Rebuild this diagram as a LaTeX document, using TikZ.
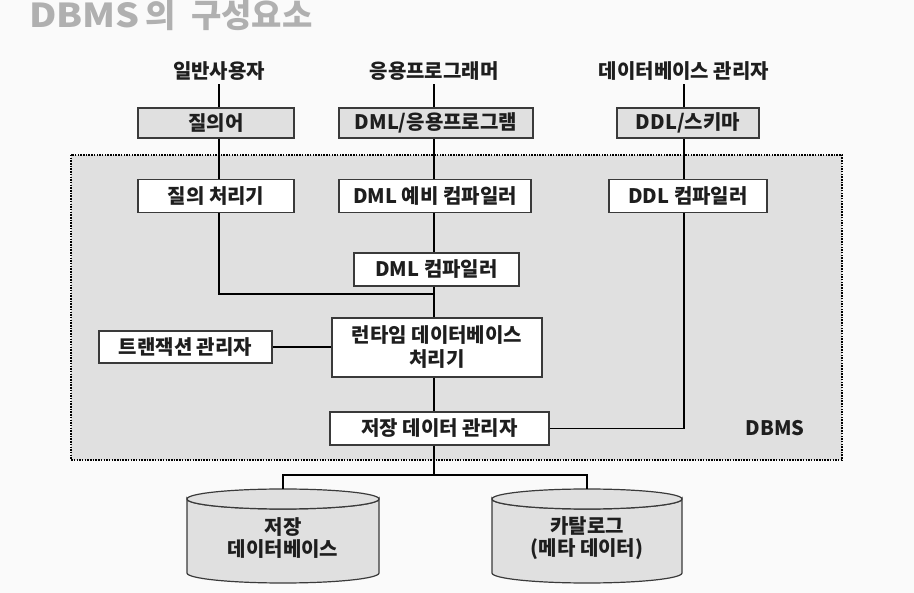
\documentclass[tikz,border=0pt]{standalone}
\usepackage{fontspec}
\setmainfont{Noto Sans CJK KR}
\definecolor{bgc}{HTML}{FAFAFA}
\definecolor{regc}{HTML}{E0E0E0}
\definecolor{boxline}{HTML}{3A3A3A}
\definecolor{titlec}{HTML}{B0B0B0}
\definecolor{txt}{HTML}{1E1E1E}
\begin{document}
\begin{tikzpicture}[x=1pt,y=-1pt,
  every node/.style={font=\fontsize{20}{24}\selectfont\bfseries, text=txt},
  box/.style={draw=boxline, line width=1.2pt, inner sep=0pt, align=center},
  wbox/.style={box, fill=white},
  gbox/.style={box, fill=regc},
  lbl/.style={inner sep=0pt, minimum height=26pt},
  conn/.style={line width=1.1pt, draw=black},
  cylstyle/.style={draw=boxline, line width=1.2pt, fill=regc},
  region/.style={fill=regc, draw=black, line width=1.5pt, dash pattern=on 1.5pt off 1.2pt}
]
\useasboundingbox (0,0) rectangle (914,593);
\fill[bgc] (0,0) rectangle (914,593);
\draw[region] (71,155) rectangle (842,460);

\node[anchor=base west, inner sep=0pt, font=\fontsize{33}{38}\selectfont\bfseries, text=titlec] (title) at (29,28) {{\addfontfeature{FakeStretch=1.14}DBMS}\hspace{6pt}의\hspace{15pt}구성요소};

\node[lbl] (u1) at (219,71) {일반사용자};
\node[lbl] (u2) at (434,71) {응용프로그래머};
\node[lbl] (u3) at (684,71) {데이터베이스 관리자};

\node[gbox, minimum width=156pt, minimum height=30pt] (q) at (216,123) {질의어};
\node[gbox, minimum width=194pt, minimum height=30pt] (dmlp) at (436,123) {DML/응용프로그램};
\node[gbox, minimum width=142pt, minimum height=30pt] (ddls) at (688,123) {DDL/스키마};

\node[wbox, minimum width=156pt, minimum height=33pt] (qp) at (216,196) {질의 처리기};
\node[wbox, minimum width=192pt, minimum height=33pt] (dmlpre) at (435,196) {DML 예비 컴파일러};
\node[wbox, minimum width=158pt, minimum height=33pt] (ddlc) at (688,196) {DDL 컴파일러};

\node[wbox, minimum width=165pt, minimum height=33pt] (dmlc) at (436.5,269.5) {DML 컴파일러};
\node[wbox, minimum width=210pt, minimum height=59pt] (rt) at (437,347.5) {런타임 데이터베이스\\처리기};
\node[wbox, minimum width=173pt, minimum height=32pt] (tm) at (185.5,347) {트랜잭션 관리자};
\node[wbox, minimum width=219pt, minimum height=33pt] (sdm) at (439.5,428.5) {저장 데이터 관리자};

\node[inner sep=0pt] (dbmslbl) at (775,428) {DBMS};

% cylinders
\path[cylstyle] (187,499) -- (187,573) arc[start angle=180, end angle=0, x radius=96, y radius=10] -- (379,499) arc[start angle=0, end angle=180, x radius=96, y radius=10] -- cycle;
\draw[cylstyle] (283,499) ellipse [x radius=96, y radius=10];
\path[cylstyle] (492,499) -- (492,573) arc[start angle=180, end angle=0, x radius=95, y radius=10] -- (682,499) arc[start angle=0, end angle=180, x radius=95, y radius=10] -- cycle;
\draw[cylstyle] (587,499) ellipse [x radius=95, y radius=10];
\coordinate (c1top) at (283,489);
\coordinate (c2top) at (587,489);
\node[align=center, font=\fontsize{20}{22}\selectfont\bfseries] (cyl1) at (283,538) {저장\\데이터베이스};
\node[align=center, font=\fontsize{20}{22}\selectfont\bfseries] (cyl2) at (587,538) {카탈로그\\(메타 데이터)};

\coordinate (j1) at (434,294);
\coordinate (jb) at (434,475);

% left column
\draw[conn] (u1.south) -- (u1.south |- q.north);
\draw[conn] (u1.south |- q.south) -- (u1.south |- qp.north);
\draw[conn] (u1.south |- qp.south) |- (j1);
% center column
\draw[conn] (u2.south) -- (u2.south |- dmlp.north);
\draw[conn] (u2.south |- dmlp.south) -- (u2.south |- dmlpre.north);
\draw[conn] (u2.south |- dmlpre.south) -- (u2.south |- dmlc.north);
\draw[conn] (u2.south |- dmlc.south) -- (u2.south |- rt.north);
\draw[conn] (u2.south |- rt.south) -- (u2.south |- sdm.north);
\draw[conn] (u2.south |- sdm.south) -- (jb);
\draw[conn] (c1top) -- (c1top |- jb) -- (c2top |- jb) -- (c2top);
% right column
\draw[conn] (u3.south) -- (u3.south |- ddls.north);
\draw[conn] (u3.south |- ddls.south) -- (u3.south |- ddlc.north);
\draw[conn] (u3.south |- ddlc.south) |- (sdm.east);
% transaction
\draw[conn] (tm.east) -- (tm.east -| rt.west);
\end{tikzpicture}
\end{document}
